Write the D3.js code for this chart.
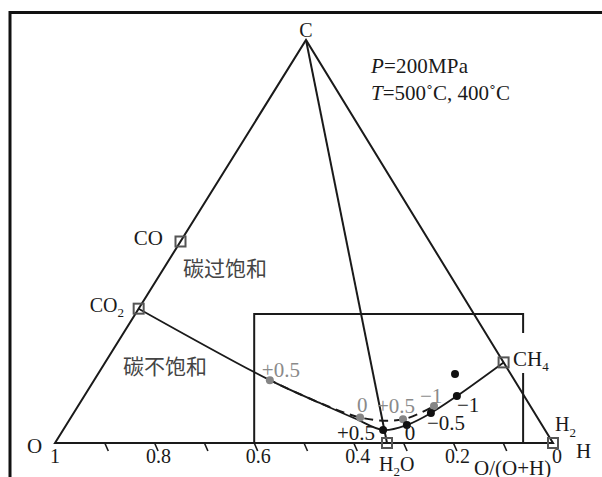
<!DOCTYPE html>
<html><head><meta charset="utf-8">
<script src="https://cdn.jsdelivr.net/npm/d3@7"></script>
<style>body{margin:0;background:#fff}svg{display:block}</style>
</head><body>
<script>
// ---------- data (ternary: r = O/(O+H), c = C mole fraction) ----------
const speciesNames = ["CO", "CO2", "CH4", "H2O", "H2"];
const speciesR = [1, 1, 0, 1/3, 0];
const speciesC = [0.5, 1/3, 0.2, 0, 0];

const solidR = [1, 0.582, 0.4604, 0.3912, 0.336, 0.284, 0.225, 0.153, 0];
const solidC = [1/3, 0.156, 0.0968, 0.0608, 0.0323, 0.0447, 0.0744, 0.1166, 0.2];

const blackR = [0.336, 0.284, 0.225, 0.153, 0.135];
const blackC = [0.0323, 0.0447, 0.0744, 0.1166, 0.171];
const blackLabels = ["+0.5", "0", "\u22120.5", "\u22121", ""];

const grayR = [0.582, 0.380, 0.289, 0.213];
const grayC = [0.156, 0.0633, 0.0588, 0.0918];
const grayLabels = ["+0.5", "0", "+0.5", "\u22121"];

const tickValues = [0.1,0.2,0.3,0.4,0.5,0.6,0.7,0.8,0.9];
const tickLabelValues = [1, 0.8, 0.6, 0.4, 0.2, 0];
const tickLabels = ["1", "0.8", "0.6", "0.4", "0.2", "0"];

const boxR = [0.6, 0.06];
const boxC = [0, 0.32];
const boxGapC = [0.273, 0.174];

// ---------- layout ----------
const W = 602, H = 477;
const apexX = 306;
const xScale = d3.scaleLinear().domain([1, 0]).range([55, 553]);
const cScale = d3.scaleLinear().domain([0, 1]).range([443, 40]);
const project = (r, c) => [(1 - c) * xScale(r) + c * apexX, cScale(c)];

const serif = "'Liberation Serif','Times New Roman',serif";
const cjk = "'Noto Sans CJK SC','Noto Sans CJK JP',sans-serif";
const ink = "#1a1a1a";

const svg = d3.select("body").append("svg").attr("width", W).attr("height", H);

// frame
svg.append("path").attr("d", `M10,${H} L10,12.5 L${W},12.5`)
  .attr("fill", "none").attr("stroke", "#111").attr("stroke-width", 3);

// triangle
const tri = [project(1, 0), project(0, 1), project(0, 0)];
svg.append("path").attr("d", d3.line()(tri) + "Z")
  .attr("fill", "none").attr("stroke", ink).attr("stroke-width", 2);

// C -> H2O line
svg.append("path").attr("d", d3.line()([project(0, 1), project(speciesR[3], speciesC[3])]))
  .attr("fill", "none").attr("stroke", ink).attr("stroke-width", 2);

// box
const bx0 = xScale(boxR[0]), bx1 = xScale(boxR[1]);
const by0 = cScale(boxC[0]), by1 = cScale(boxC[1]);
svg.append("path")
  .attr("d", `M${bx0},${by0} L${bx0},${by1} L${bx1},${by1} L${bx1},${cScale(boxGapC[0])} M${bx1},${cScale(boxGapC[1])} L${bx1},${by0}`)
  .attr("fill", "none").attr("stroke", ink).attr("stroke-width", 2);

// ticks
svg.append("g").selectAll("line").data(tickValues).join("line")
  .attr("x1", d => xScale(d)).attr("y1", cScale(0))
  .attr("x2", d => xScale(d) + 3.5).attr("y2", cScale(0) + 8)
  .attr("stroke", ink).attr("stroke-width", 1.6);

svg.append("g").selectAll("text").data(tickLabelValues).join("text")
  .attr("x", (d, i) => xScale(d) + (i === 0 ? 0 : 4)).attr("y", 463)
  .attr("text-anchor", "middle").attr("font-family", serif).attr("font-size", 20)
  .attr("fill", ink).text((d, i) => tickLabels[i]);

// solid curve
const solidPts = solidR.map((r, i) => project(r, solidC[i]));
svg.append("path").attr("d", d3.line().curve(d3.curveCatmullRom)(solidPts))
  .attr("fill", "none").attr("stroke", ink).attr("stroke-width", 1.8);

// dashed curve through gray points
const grayPts = grayR.map((r, i) => project(r, grayC[i]));
svg.append("path").attr("d", d3.line().curve(d3.curveCatmullRom)(grayPts))
  .attr("fill", "none").attr("stroke", ink).attr("stroke-width", 2)
  .attr("stroke-dasharray", "9,6").attr("stroke-dashoffset", -12);

// species squares
svg.append("g").selectAll("rect").data(speciesNames).join("rect")
  .attr("x", (d, i) => project(speciesR[i], speciesC[i])[0] - 5)
  .attr("y", (d, i) => project(speciesR[i], speciesC[i])[1] - 5)
  .attr("width", 10).attr("height", 10)
  .attr("fill", "none").attr("stroke", "#555").attr("stroke-width", 2);

// gray points
const grayOffsets = [[-8, -3], [-3, -5], [-26, -6], [-14, -3]];
svg.append("g").selectAll("circle").data(grayPts).join("circle")
  .attr("cx", d => d[0]).attr("cy", d => d[1]).attr("r", 4).attr("fill", "#858585");
svg.append("g").selectAll("text").data(grayPts).join("text")
  .attr("x", (d, i) => d[0] + grayOffsets[i][0]).attr("y", (d, i) => d[1] + grayOffsets[i][1])
  .attr("font-family", serif).attr("font-size", 21).attr("fill", "#8a8a8a")
  .text((d, i) => grayLabels[i]);

// black points
const blackPts = blackR.map((r, i) => project(r, blackC[i]));
const blackOffsets = [[-8, 10], [-2, 15], [-4, 17], [0, 16], [0, 0]];
const blackAnchors = ["end", "start", "start", "start", "start"];
svg.append("g").selectAll("circle").data(blackPts).join("circle")
  .attr("cx", d => d[0]).attr("cy", d => d[1]).attr("r", 4).attr("fill", "#111");
svg.append("g").selectAll("text").data(blackPts).join("text")
  .attr("x", (d, i) => d[0] + blackOffsets[i][0]).attr("y", (d, i) => d[1] + blackOffsets[i][1])
  .attr("text-anchor", (d, i) => blackAnchors[i])
  .attr("font-family", serif).attr("font-size", 21).attr("fill", ink)
  .text((d, i) => blackLabels[i]);

// text helper
function label(x, y, parts, size, anchor) {
  const t = svg.append("text").attr("x", x).attr("y", y)
    .attr("font-family", serif).attr("font-size", size).attr("fill", ink)
    .attr("text-anchor", anchor || "start");
  parts.forEach(p => {
    const s = t.append("tspan").text(p.t);
    if (p.sub) s.attr("font-size", 13).attr("dy", p.dy || 4);
    if (p.up) s.attr("dy", p.up);
    if (p.it) s.attr("font-style", "italic");
  });
  return t;
}

// vertex labels
label(306, 37, [{t: "C"}], 20, "middle");
label(27, 453, [{t: "O"}], 21);
label(576, 458, [{t: "H"}], 21);
label(474, 475, [{t: "O/(O+H)"}], 21);

// species labels
label(163, 245, [{t: "CO"}], 21, "end");
label(124, 312, [{t: "CO"}, {t: "2", sub: true, dy: 5}], 20, "end");
label(513, 366, [{t: "CH"}, {t: "4", sub: true, dy: 5}], 21);
label(555, 431, [{t: "H"}, {t: "2", sub: true, dy: 6}], 20);
label(379, 471, [{t: "H"}, {t: "2", sub: true, dy: 5}, {t: "O", up: -5}], 20);

// conditions
label(371, 73, [{t: "P", it: true}, {t: "=200MPa"}], 21)
  .attr("textLength", 97).attr("lengthAdjust", "spacing");
label(371, 100, [{t: "T", it: true}, {t: "=500\u02daC, 400\u02daC"}], 21)
  .attr("textLength", 139).attr("lengthAdjust", "spacing");

// region labels
svg.append("text").attr("x", 183).attr("y", 276).attr("font-family", cjk)
  .attr("font-size", 21).attr("fill", "#444").text("碳过饱和");
svg.append("text").attr("x", 123).attr("y", 374).attr("font-family", cjk)
  .attr("font-size", 21).attr("fill", "#444").text("碳不饱和");
</script>
</body></html>
